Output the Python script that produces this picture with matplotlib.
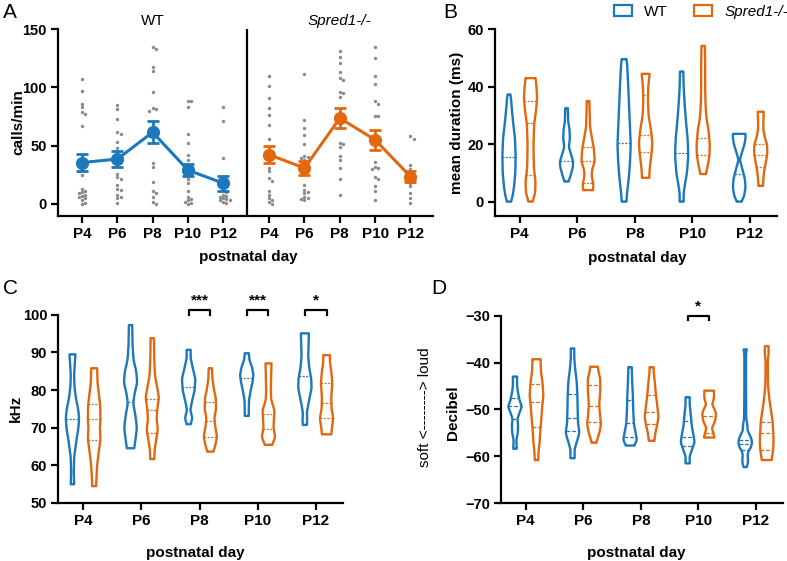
import numpy as np
import matplotlib
matplotlib.use("Agg")
import matplotlib.pyplot as plt
from matplotlib.patches import Patch

plt.rcParams['font.family'] = ['Liberation Sans', 'DejaVu Sans']

BLUE = '#1b78bd'
ORANGE = '#e2680f'
GRAY = '#8a8a8a'

days = ['P4', 'P6', 'P8', 'P10', 'P12']

# ---------------- Panel A: calls/min ----------------
wt_calls = [
    [107, 97, 86, 83, 79, 77, 67, 30, 25, 13, 11, 10, 9, 8, 7, 6, 5, 3, 1, 0],
    [85, 81, 73, 62, 60, 53, 48, 42, 38, 35, 26, 23, 21, 16, 13, 12, 8, 6, 5, 1],
    [135, 133, 117, 114, 96, 82, 81, 80, 65, 35, 32, 19, 11, 9, 6, 2, 0],
    [88, 88, 83, 60, 52, 42, 38, 33, 26, 21, 18, 11, 6, 4, 3, 2, 1, 0],
    [83, 71, 39, 20, 15, 12, 10, 8, 7, 6, 5, 4, 3, 3, 2, 1],
]
ko_calls = [
    [110, 101, 91, 82, 76, 68, 56, 48, 40, 31, 28, 22, 20, 11, 8, 5, 3, 2, 0],
    [111, 72, 65, 59, 51, 41, 40, 39, 38, 36, 16, 12, 10, 9, 6, 5, 4, 3],
    [131, 126, 121, 113, 108, 106, 96, 95, 92, 75, 52, 51, 49, 41, 38, 31, 21, 8],
    [135, 125, 110, 103, 88, 86, 75, 75, 55, 36, 32, 31, 30, 23, 21, 15, 11, 3],
    [58, 56, 33, 30, 25, 22, 20, 18, 15, 9, 5, 1],
]
wt_mean = [35.5, 38.5, 61.5, 29.0, 17.8]
wt_sem = [7.0, 7.0, 9.5, 5.2, 6.3]
ko_mean = [42.2, 30.8, 73.6, 55.0, 23.5]
ko_sem = [7.5, 6.3, 8.3, 8.5, 5.0]

# ---------------- Panel B: mean duration (ms) ----------------
# violin outlines: (value, relative half-width)
dur_wt_shape = [
    [(0, 0.3), (2, 0.55), (5, 0.75), (10, 0.95), (16, 1.0), (22, 0.9), (28, 0.6), (33, 0.4), (36, 0.3), (37.3, 0.2)],
    [(7, 0.3), (9, 0.6), (12, 0.95), (14, 1.0), (17, 0.6), (19, 0.35), (22, 0.5), (25, 0.45), (28, 0.25), (32.5, 0.2)],
    [(0, 0.35), (3, 0.45), (8, 0.7), (14, 0.9), (20, 1.0), (28, 0.85), (36, 0.7), (44, 0.55), (48, 0.45), (49.6, 0.35)],
    [(0, 0.3), (3, 0.3), (6, 0.5), (10, 0.8), (16, 1.0), (22, 0.9), (28, 0.65), (34, 0.45), (40, 0.3), (45.3, 0.25)],
    [(0, 0.35), (2, 0.75), (5, 0.95), (8, 0.85), (12, 0.4), (14.5, 0.1), (17, 0.4), (20, 0.8), (22, 0.95), (23.6, 0.95)],
]
dur_ko_shape = [
    [(0, 0.3), (3, 0.7), (7, 0.75), (12, 0.5), (20, 0.45), (27, 0.55), (32, 0.85), (36, 1.0), (40, 0.9), (43, 0.75)],
    [(4, 0.75), (6, 0.8), (9, 0.55), (11, 0.6), (14, 1.0), (18, 0.9), (22, 0.6), (26, 0.3), (30, 0.25), (35, 0.2)],
    [(8.3, 0.55), (11, 0.6), (14, 0.75), (18, 0.95), (21, 1.0), (25, 0.8), (30, 0.45), (35, 0.35), (40, 0.4), (44.5, 0.6)],
    [(9.6, 0.4), (12, 0.65), (16, 0.95), (20, 1.0), (25, 0.8), (29, 0.5), (34, 0.35), (40, 0.3), (48, 0.3), (54.2, 0.25)],
    [(5.5, 0.35), (8, 0.4), (11, 0.55), (14, 0.8), (17, 1.0), (20, 0.95), (22.5, 0.6), (25, 0.4), (28, 0.4), (31.3, 0.45)],
]
dur_wt_lines = [[15.5], [14.2], [20.5], [16.8], [9.5]]
dur_ko_lines = [[35.2, 27.2, 9.3], [19.1, 14.2, 6.4], [37.2, 23.2, 17.4], [22.3, 16.2], [20.0, 16.3, 12.2]]

# ---------------- Panel C: kHz ----------------
khz_wt_shape = [
    [(54.9, 0.25), (58, 0.2), (62, 0.25), (66, 0.55), (70, 0.9), (72.5, 1.0), (75, 0.85), (78, 0.5), (81, 0.3), (84, 0.25), (87, 0.35), (89.5, 0.45)],
    [(64.5, 0.55), (67, 0.75), (70, 0.95), (73, 0.75), (76.5, 0.4), (79, 0.6), (82, 1.0), (85, 0.85), (88, 0.45), (92, 0.3), (97.3, 0.25)],
    [(70.9, 0.3), (72.5, 0.55), (74.7, 0.25), (77, 0.5), (80, 0.9), (83, 1.0), (86, 0.6), (88.5, 0.3), (90.7, 0.3)],
    [(73.1, 0.3), (75, 0.3), (77.5, 0.35), (80, 0.6), (82, 0.85), (84, 1.0), (86, 0.8), (88, 0.4), (89.8, 0.3)],
    [(70.7, 0.3), (72, 0.35), (74, 0.3), (77, 0.6), (80.5, 1.0), (83, 0.95), (86, 0.65), (89, 0.5), (92, 0.55), (95.1, 0.6)],
]
khz_ko_shape = [
    [(54.4, 0.3), (57, 0.35), (60, 0.45), (63, 0.65), (67, 0.95), (70, 0.85), (72, 0.95), (76, 0.9), (79, 0.7), (82, 0.5), (85.8, 0.45)],
    [(61.6, 0.3), (64, 0.35), (67, 0.6), (69.5, 0.85), (72, 0.65), (75, 0.75), (78, 1.0), (81, 0.7), (84, 0.4), (88, 0.3), (93.8, 0.25)],
    [(63.6, 0.45), (65, 0.7), (67.5, 1.0), (70, 0.75), (72.5, 0.6), (75, 0.85), (78, 0.8), (80, 0.55), (83, 0.3), (85.8, 0.25)],
    [(65.4, 0.55), (67.5, 1.0), (70, 0.75), (72, 0.8), (74.5, 0.9), (77.5, 0.4), (80, 0.35), (84, 0.4), (87.1, 0.45)],
    [(68.2, 0.7), (70, 0.8), (72.5, 1.0), (75, 0.75), (78, 0.7), (82, 0.85), (85, 0.7), (87.5, 0.5), (89.3, 0.5)],
]
khz_wt_lines = [[72.3], [76.7], [80.9], [83.3], [83.7]]
khz_ko_lines = [[76.4, 72.3, 66.7], [77.5, 74.7, 68.6], [76.9, 71.8, 67.6], [73.6, 69.6], [82.0, 76.6, 72.6]]
khz_sig_days = [2, 3, 4]
khz_sig_text = ['***', '***', '*']

# ---------------- Panel D: Decibel ----------------
db_wt_shape = [
    [(-58.4, 0.25), (-56.5, 0.2), (-55, 0.4), (-53.5, 0.45), (-52, 0.35), (-50.5, 0.7), (-49.4, 1.0), (-48, 0.65), (-46.5, 0.45), (-45, 0.3), (-43, 0.3)],
    [(-60.4, 0.3), (-58.5, 0.3), (-56.5, 0.7), (-55, 1.0), (-53, 0.8), (-50.5, 0.75), (-47, 0.7), (-44, 0.6), (-41, 0.35), (-39, 0.25), (-37, 0.25)],
    [(-57.7, 0.6), (-56.5, 1.0), (-55, 0.8), (-53, 0.55), (-50, 0.45), (-47, 0.4), (-44, 0.3), (-41, 0.25)],
    [(-61.5, 0.3), (-60, 0.3), (-58.5, 0.65), (-57, 1.0), (-55.5, 0.85), (-53.5, 0.6), (-51, 0.45), (-49, 0.3), (-47.4, 0.3)],
    [(-62.3, 0.2), (-61.3, 0.45), (-60, 0.35), (-59, 0.4), (-58, 0.9), (-56.7, 1.0), (-55.5, 0.7), (-54.5, 0.3), (-53.5, 0.35), (-52, 0.15), (-45, 0.12), (-38, 0.12), (-37.2, 0.25)],
]
db_ko_shape = [
    [(-60.8, 0.25), (-59, 0.3), (-57, 0.45), (-54.5, 0.55), (-52, 0.7), (-49, 0.85), (-47, 1.0), (-44, 0.85), (-42, 0.65), (-40, 0.6), (-39.3, 0.6)],
    [(-57.1, 0.35), (-56, 0.55), (-54.5, 0.85), (-53, 1.0), (-51, 0.85), (-49, 0.75), (-46, 0.9), (-43.5, 0.9), (-42, 0.65), (-40.9, 0.55)],
    [(-56.7, 0.4), (-55, 0.55), (-53, 0.85), (-51.5, 1.0), (-49, 0.8), (-46.5, 0.6), (-44, 0.45), (-42, 0.3), (-41, 0.3)],
    [(-56, 0.75), (-55, 0.6), (-54, 0.4), (-52.5, 0.85), (-51, 1.0), (-50, 0.8), (-49, 0.45), (-47.5, 0.7), (-46, 0.7)],
    [(-60.8, 0.7), (-59, 0.9), (-57, 1.0), (-55, 0.95), (-52.5, 0.85), (-50, 0.6), (-48, 0.4), (-45, 0.2), (-40, 0.15), (-37.5, 0.3), (-36.5, 0.25)],
]
db_wt_lines = [[-47.5, -49.3, -52.0], [-46.7, -51.9, -54.5], [-48.0, -52.8, -55.8], [-52.5, -55.8, -57.7], [-56.5, -57.4, -58.6]]
db_ko_lines = [[-44.6, -48.5, -53.8], [-44.8, -49.2, -52.6], [-46.9, -50.6, -53.1], [-51.5, -55.0], [-52.6, -55.0, -58.7]]
db_sig_days = [3]
db_sig_text = ['*']

# ================= drawing helpers =================
def profile(knots, n=300, sigma=5):
    v = np.array([k[0] for k in knots], float)
    w = np.array([k[1] for k in knots], float)
    o = np.argsort(v)
    v, w = v[o], w[o]
    yy = np.linspace(v[0], v[-1], n)
    ww = np.interp(yy, v, w)
    r = int(3 * sigma)
    ker = np.exp(-0.5 * (np.arange(-r, r + 1) / sigma) ** 2)
    ker /= ker.sum()
    ws = np.convolve(np.pad(ww, r, mode='edge'), ker, mode='valid')
    return yy, ws


def violin(ax, cx, knots, lines, color, maxw, ls):
    yy, ws = profile(knots)
    xs = np.concatenate([cx + ws * maxw, (cx - ws * maxw)[::-1]])
    ys = np.concatenate([yy, yy[::-1]])
    ax.fill(xs, ys, facecolor='none', edgecolor=color, lw=1.7, joinstyle='round', zorder=3)
    for lv in lines:
        hw = np.interp(lv, yy, ws) * maxw
        ax.plot([cx - hw, cx + hw], [lv, lv], color=color, lw=0.9, ls=ls, zorder=3)


def style_axes(ax):
    for s in ['top', 'right']:
        ax.spines[s].set_visible(False)
    for s in ['left', 'bottom']:
        ax.spines[s].set_linewidth(1.6)
    ax.tick_params(direction='out', length=5, width=1.6, labelsize=10.5, pad=3)
    ax.tick_params(axis='x', labelsize=11)
    for t in ax.get_xticklabels() + ax.get_yticklabels():
        t.set_fontweight('bold')


def swarm(vals, d=0.09, vtol=2.8):
    placed, offs = [], []
    for v in vals:
        cands = [0.0]
        for k in range(1, 8):
            cands += [k * d, -k * d]
        for c in cands:
            if all(not (abs(c - pc) < d * 0.95 and abs(v - pv) < vtol) for pc, pv in placed):
                break
        placed.append((c, v))
        offs.append(c)
    return np.array(offs)


fig = plt.figure(figsize=(7.87, 5.61), dpi=100)

# ---------------- A ----------------
axA = fig.add_axes([0.0737, 0.615, 0.4765, 0.3333])
wt_pos = np.arange(5, dtype=float)
ko_pos = np.arange(5, dtype=float) + 5.3
for pos, groups in [(wt_pos, wt_calls), (ko_pos, ko_calls)]:
    for x, vals in zip(pos, groups):
        offs = swarm(vals)
        axA.scatter(x + offs, vals, s=6, color=GRAY, linewidths=0, zorder=2)
axA.errorbar(wt_pos, wt_mean, yerr=wt_sem, color=BLUE, marker='o', ms=8.5, lw=2.2,
             capsize=4, capthick=2, elinewidth=2, zorder=4)
axA.errorbar(ko_pos, ko_mean, yerr=ko_sem, color=ORANGE, marker='o', ms=8.5, lw=2.2,
             capsize=4, capthick=2, elinewidth=2, zorder=4)
axA.axvline(4.67, color='black', lw=1.6, zorder=1)
axA.set_xlim(-0.68, 9.94)
axA.set_ylim(-10.3, 150)
axA.set_yticks([0, 50, 100, 150])
axA.set_xticks(np.concatenate([wt_pos, ko_pos]))
axA.set_xticklabels(days + days)
style_axes(axA)
axA.set_ylabel('calls/min', fontsize=11, fontweight='bold', va='center')
axA.yaxis.set_label_coords(-0.107, 0.5)
axA.set_xlabel('postnatal day', fontsize=11, fontweight='bold', va='center')
axA.xaxis.set_label_coords(0.507, -0.219)
axA.text(2, 1.043, 'WT', transform=axA.get_xaxis_transform(), ha='center', va='center', fontsize=11)
axA.text(7.3, 1.043, 'Spred1-/-', transform=axA.get_xaxis_transform(), ha='center', va='center',
         fontsize=11, fontstyle='italic')


def violin_panel(rect, wt_shape, ko_shape, wt_lines, ko_lines, ylim, yticks, ls, maxw=0.115, off=0.187):
    ax = fig.add_axes(rect)
    for i in range(5):
        violin(ax, i - off, wt_shape[i], wt_lines[i], BLUE, maxw, ls)
        violin(ax, i + off, ko_shape[i], ko_lines[i], ORANGE, maxw, ls)
    ax.set_xlim(-0.43, 4.47)
    ax.set_ylim(*ylim)
    ax.set_yticks(yticks)
    ax.set_xticks(range(5))
    ax.set_xticklabels(days)
    style_axes(ax)
    return ax


def brackets(ax, sig_days, sig_text, ytop, ybot, ytext, off=0.187):
    for d, t in zip(sig_days, sig_text):
        ax.plot([d - off, d - off, d + off, d + off], [ybot, ytop, ytop, ybot], color='black',
                lw=1.6, clip_on=False, zorder=5)
        ax.text(d, ytext, t, ha='center', va='bottom', fontsize=11, fontweight='bold', clip_on=False)


# ---------------- B ----------------
axB = violin_panel([0.629, 0.615, 0.3583, 0.3328], dur_wt_shape, dur_ko_shape, dur_wt_lines, dur_ko_lines,
                   (-5, 60), [0, 20, 40, 60], (0, (1.5, 1.2)))
axB.set_ylabel('mean duration (ms)', fontsize=11, fontweight='bold', va='center')
axB.yaxis.set_label_coords(-0.135, 0.5)
axB.set_xlabel('postnatal day', fontsize=11, fontweight='bold', va='center')
axB.xaxis.set_label_coords(0.503, -0.225)

# ---------------- C ----------------
axC = violin_panel([0.0741, 0.104, 0.3618, 0.3346], khz_wt_shape, khz_ko_shape, khz_wt_lines, khz_ko_lines,
                   (50, 100), [50, 60, 70, 80, 90, 100], (0, (1.5, 1.2)))
axC.set_ylabel('kHz', fontsize=11, fontweight='bold', va='center')
axC.yaxis.set_label_coords(-0.149, 0.5)
axC.set_xlabel('postnatal day', fontsize=11, fontweight='bold', va='center')
axC.xaxis.set_label_coords(0.48, -0.268)
brackets(axC, khz_sig_days, khz_sig_text, 101.3, 100.1, 101.9)

# ---------------- D ----------------
axD = violin_panel([0.6366, 0.103, 0.3583, 0.3344], db_wt_shape, db_ko_shape, db_wt_lines, db_ko_lines,
                   (-70, -30), [-70, -60, -50, -40, -30], (0, (3, 1.5)), maxw=0.12)
axD.set_ylabel('Decibel', fontsize=11, fontweight='bold', va='center')
axD.yaxis.set_label_coords(-0.17, 0.48)
axD.text(-0.27, 0.51, 'soft <--------> loud', transform=axD.transAxes, rotation=90,
         ha='center', va='center', fontsize=11)
axD.set_xlabel('postnatal day', fontsize=11, fontweight='bold', va='center')
axD.xaxis.set_label_coords(0.48, -0.265)
brackets(axD, db_sig_days, db_sig_text, -30.0, -30.9, -29.6)

# legend
handles = [Patch(facecolor='none', edgecolor=BLUE, lw=1.6),
           Patch(facecolor='none', edgecolor=ORANGE, lw=1.6)]
leg = fig.legend(handles, ['WT', 'Spred1-/-'], loc='center left', bbox_to_anchor=(0.780, 0.979),
                 ncol=2, frameon=False, fontsize=11, handlelength=1.2, handleheight=0.75,
                 columnspacing=1.7, handletextpad=0.8, borderaxespad=0, borderpad=0)
leg.get_texts()[1].set_fontstyle('italic')

# panel letters
fig.text(0.004, 0.995, 'A', fontsize=15, va='top', ha='left')
fig.text(0.563, 0.995, 'B', fontsize=15, va='top', ha='left')
fig.text(0.004, 0.503, 'C', fontsize=15, va='top', ha='left')
fig.text(0.548, 0.503, 'D', fontsize=15, va='top', ha='left')

fig.savefig('out.png', dpi=100)
